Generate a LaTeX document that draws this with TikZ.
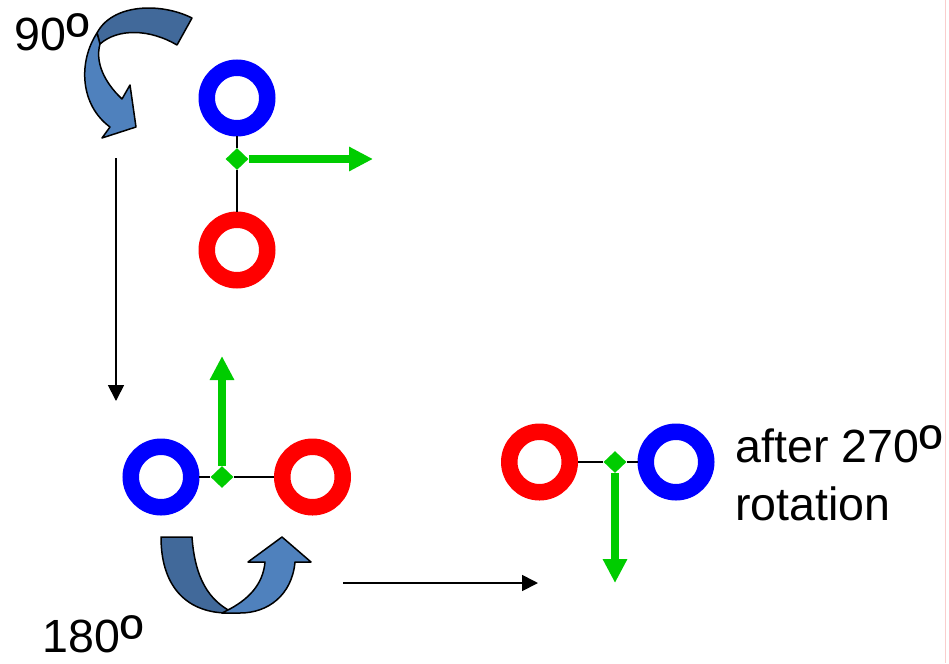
\documentclass[tikz,border=0pt]{standalone}
\usepackage{fontspec}
\usepackage{graphicx}
\setmainfont{Liberation Sans}
\usetikzlibrary{arrows.meta,shapes.geometric}

\definecolor{vecgreen}{RGB}{0,204,0}
\definecolor{ringblue}{RGB}{0,0,255}
\definecolor{ringred}{RGB}{255,0,0}
\definecolor{bendback}{RGB}{65,105,154}
\definecolor{bendfront}{RGB}{79,129,189}
\definecolor{pagepink}{RGB}{250,205,205}
\newcommand{\ordo}{\raisebox{-0.17em}[\height][0pt]{\scalebox{1.35}{º}}}

\begin{document}
\begin{tikzpicture}[x=0.02cm, y=-0.02cm,
    ring/.style={circle, minimum size=1.21cm, inner sep=0pt, line width=0.33cm},
    hinge/.style={diamond, fill=vecgreen, minimum width=0.46cm, minimum height=0.44cm, inner sep=0pt},
    link/.style={draw=black, line width=0.04cm},
    vec/.style={draw=vecgreen, line width=0.16cm, -{Triangle[length=0.48cm, width=0.46cm]}},
    move/.style={draw=black, line width=0.035cm, -{Triangle[length=0.32cm, width=0.32cm]}},
    turnband/.style={draw=black, line width=0.03cm, line join=round},
    caption/.style={anchor=base west, inner sep=0pt, font=\fontsize{26.5}{32}\selectfont}]
    \useasboundingbox (0,0) rectangle (949,663);
    \draw[pagepink, line width=0.02cm] (945,0) -- (945,663);

    % Rings
    \foreach \name/\col/\x/\y in {blueA/ringblue/237/98, redA/ringred/237/250,
                                  blueB/ringblue/161/477, redB/ringred/312.5/477,
                                  redC/ringred/539.5/462, blueC/ringblue/676/462} {
        \node[ring, draw=\col] (\name) at (\x,\y) {};
    }
    % Pivots
    \node[hinge] (hingeA) at (237,159) {};
    \node[hinge] (hingeB) at (222,477) {};
    \node[hinge] (hingeC) at (615,462) {};
    \coordinate (tipA) at (373,159);
    \coordinate (tipB) at (222,356);
    \coordinate (tipC) at (615,583);

    % Bonds
    \draw[link] (blueA) -- (hingeA);
    \draw[link] (hingeA) -- (redA);
    \draw[link] (blueB) -- (hingeB);
    \draw[link] (hingeB) -- (redB);
    \draw[link] (redC) -- (hingeC);
    \draw[link] (hingeC) -- (blueC);

    % Green vectors
    \draw[vec] (hingeA) -- (tipA);
    \draw[vec] (hingeB) -- (tipB);
    \draw[vec] (hingeC) -- (tipC);

    % Steps
    \coordinate (stepA) at (116,158);
    \coordinate (stepB) at (116,401);
    \coordinate (stepC) at (343,583);
    \coordinate (stepD) at (538,583);
    \draw[move] (stepA) -- (stepB);
    \draw[move] (stepC) -- (stepD);

    % 90 degree turn
    \filldraw[turnband, fill=bendback] (192,18) .. controls (160,2) and (112,4) .. (97,33) -- (100,44)
        .. controls (118,28) and (150,29) .. (177,45) -- cycle;
    \filldraw[turnband, fill=bendfront] (97,33) .. controls (78,62) and (80,105) .. (110,127)
        -- (102,138) -- (136,127) -- (130,85) -- (122,99)
        .. controls (104,82) and (95,62) .. (100,44) -- cycle;

    % 180 degree turn
    \filldraw[turnband, fill=bendback] (161,537) -- (192,537) .. controls (195,580) and (210,600) .. (230,611)
        -- (228,613) .. controls (190,613) and (161,590) .. (161,537) -- cycle;
    \filldraw[turnband, fill=bendfront] (226,611) .. controls (248,600) and (263,585) .. (265,562)
        -- (248,562) -- (282,537) -- (311,562) -- (295,562)
        .. controls (292,595) and (268,613) .. (240,613) -- (222,613) -- cycle;

    % Labels
    \node[caption] (deg90) at (14,50) {90\ordo};
    \node[caption] (deg180) at (42,652) {180\ordo};
    \node[caption] (after) at (735,462) {after 270\ordo};
    \node[caption] (rot) at (735,520) {rotation};
\end{tikzpicture}
\end{document}
